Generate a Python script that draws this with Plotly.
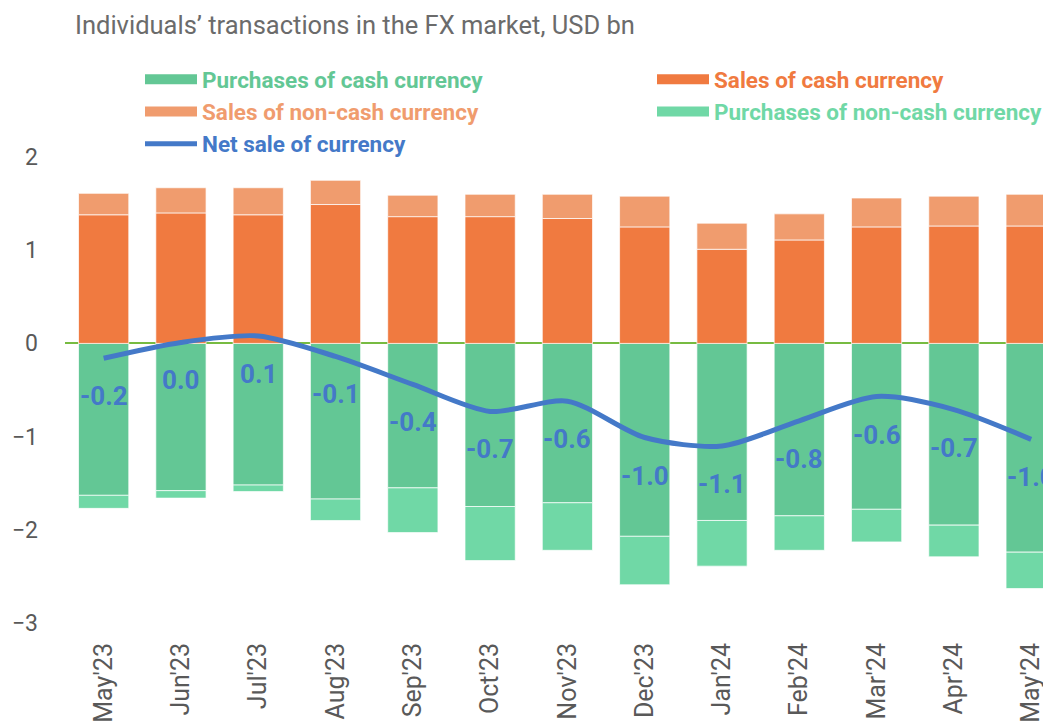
import plotly.graph_objects as go

months = ["May'23", "Jun'23", "Jul'23", "Aug'23", "Sep'23", "Oct'23", "Nov'23",
          "Dec'23", "Jan'24", "Feb'24", "Mar'24", "Apr'24", "May'24"]
sales_cash = [1.38, 1.40, 1.38, 1.49, 1.36, 1.36, 1.34, 1.25, 1.01, 1.11, 1.25, 1.26, 1.26]
sales_noncash = [0.23, 0.27, 0.29, 0.26, 0.23, 0.24, 0.26, 0.33, 0.28, 0.28, 0.31, 0.32, 0.34]
purch_cash = [-1.63, -1.58, -1.52, -1.67, -1.55, -1.75, -1.71, -2.07, -1.90, -1.85, -1.78, -1.95, -2.24]
purch_noncash = [-0.14, -0.08, -0.07, -0.23, -0.48, -0.58, -0.51, -0.52, -0.49, -0.37, -0.35, -0.34, -0.39]
net_sale = [-0.16, 0.01, 0.08, -0.14, -0.44, -0.73, -0.62, -1.01, -1.10, -0.83, -0.57, -0.71, -1.03]
net_labels = ["-0.2", "0.0", "0.1", "-0.1", "-0.4", "-0.7", "-0.6", "-1.0", "-1.1", "-0.8", "-0.6", "-0.7", "-1.0"]

C_PC = "#63c795"
C_SC = "#f07a40"
C_SN = "#f09c6e"
C_PN = "#70d8a6"
C_NET = "#4479c8"

fig = go.Figure()
outline = dict(color="rgba(255,255,255,0.7)", width=1)
fig.add_bar(x=months, y=purch_cash, marker=dict(color=C_PC, line=outline), showlegend=False)
fig.add_bar(x=months, y=sales_cash, marker=dict(color=C_SC, line=outline), showlegend=False)
fig.add_bar(x=months, y=sales_noncash, marker=dict(color=C_SN, line=outline), showlegend=False)
fig.add_bar(x=months, y=purch_noncash, marker=dict(color=C_PN, line=outline), showlegend=False)
fig.add_scatter(x=months, y=net_sale, mode="lines", line=dict(color=C_NET, width=5, shape="spline", smoothing=0.8),
                showlegend=False)

# legend entries (two columns -> two legends)
legend_items = [("Purchases of cash currency", C_PC, 13, "legend"),
                ("Sales of non-cash currency", C_SN, 13, "legend"),
                ("Net sale of currency", C_NET, 5, "legend"),
                ("Sales of cash currency", C_SC, 13, "legend2"),
                ("Purchases of non-cash currency", C_PN, 13, "legend2")]
for name, col, w, lg in legend_items:
    fig.add_scatter(x=[None], y=[None], mode="lines", line=dict(color=col, width=w), legend=lg,
                    name=f"<span style='color:{col}'><b>{name}</b></span>")

for m, v, t in zip(months, net_sale, net_labels):
    fig.add_annotation(x=m, y=v, text=f"<b>{t}</b>", showarrow=False, yshift=-38,
                       font=dict(size=26, color=C_NET, family="Roboto"))

leg_common = dict(orientation="v", xanchor="left", yanchor="top", itemwidth=52,
                  font=dict(size=22.5, family="Roboto"), tracegroupgap=0,
                  bgcolor="rgba(0,0,0,0)", xref="container", yref="container")

fig.update_layout(
    width=1051, height=727,
    margin=dict(l=57, r=0, t=149, b=112, autoexpand=False),
    barmode="relative", bargap=0.35,
    plot_bgcolor="white", paper_bgcolor="white",
    font=dict(family="Roboto", color="#595959"),
    title=dict(text="Individuals’ transactions in the FX market, USD bn", x=67/1051, xref="container",
               xanchor="left", y=1-17/727, yanchor="middle", yref="container",
               font=dict(size=25.5, color="#6b6b6b", family="Roboto")),
    legend=dict(x=132/1051, y=1-50/727, **leg_common),
    legend2=dict(x=644/1051, y=1-50/727, **leg_common),
    xaxis=dict(range=[-0.5, 12.36], tickangle=-90, tickfont=dict(size=25, color="#595959"),
               showgrid=False, ticks="", showline=False, ticklabelstandoff=14, automargin=False),
    yaxis=dict(range=[-3, 2], tickvals=[-3, -2, -1, 0, 1, 2], showgrid=False,
               zeroline=True, zerolinecolor="#77bb41", zerolinewidth=2, automargin=False,
               tickfont=dict(size=23, color="#595959"), ticklabelstandoff=26),
)
fig.write_html("out.html")
